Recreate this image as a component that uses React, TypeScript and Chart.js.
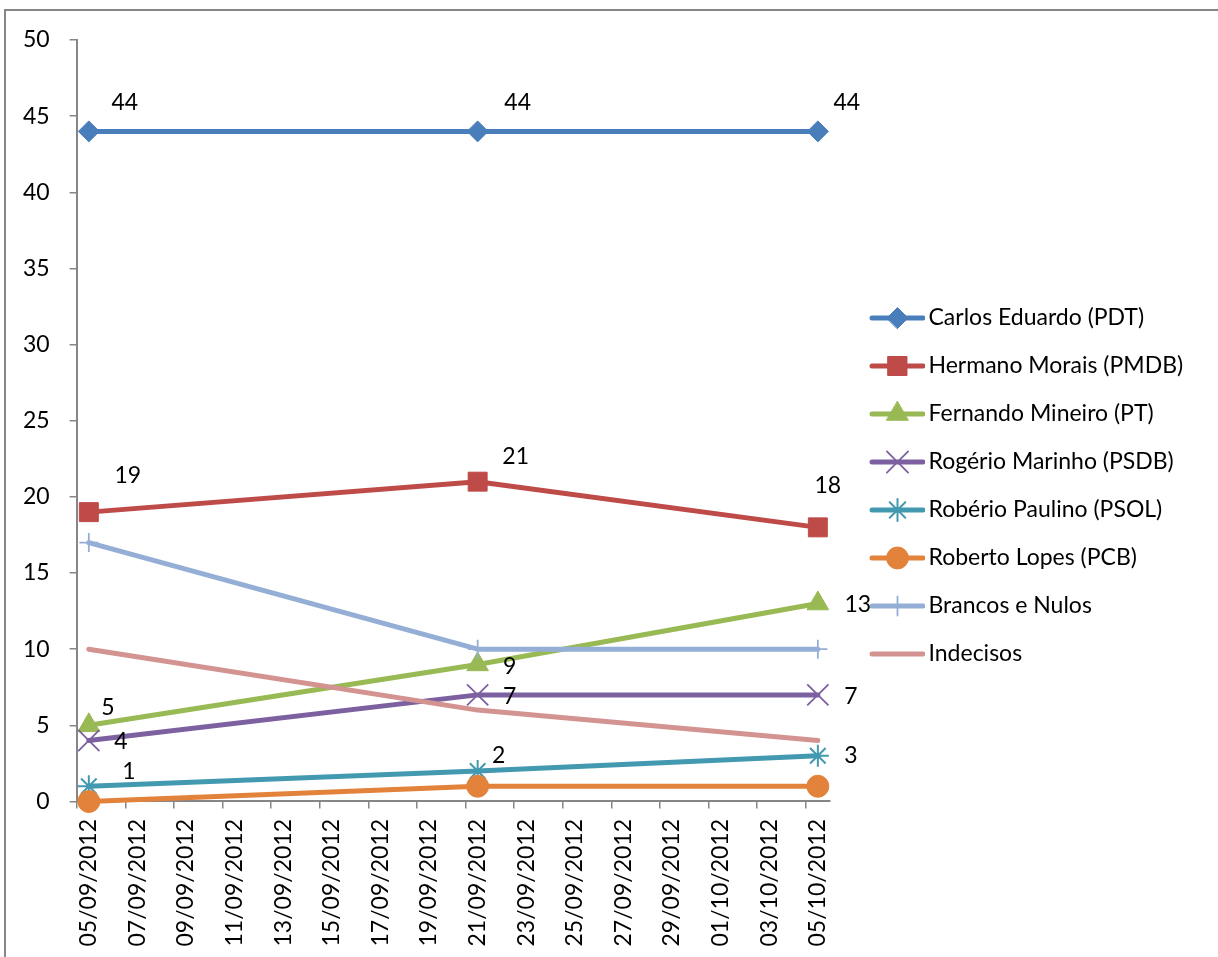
import React, { useEffect, useRef } from 'react';
import { Chart, registerables } from 'chart.js';
import { drawPoint } from 'chart.js/helpers';

Chart.register(...registerables);

// ---------------- data ----------------
const SURVEY_DATES = ['05/09/2012', '21/09/2012', '05/10/2012'];
const AXIS_START_DATE = '05/09/2012';
const AXIS_END_DATE = '05/10/2012';
const TICK_STEP_DAYS = 2;

const SERIES_LABELS = [
  'Carlos Eduardo (PDT)',
  'Hermano Morais (PMDB)',
  'Fernando Mineiro (PT)',
  'Rogério Marinho (PSDB)',
  'Robério Paulino (PSOL)',
  'Roberto Lopes (PCB)',
  'Brancos e Nulos',
  'Indecisos',
];
const CARLOS_EDUARDO = [44, 44, 44];
const HERMANO_MORAIS = [19, 21, 18];
const FERNANDO_MINEIRO = [5, 9, 13];
const ROGERIO_MARINHO = [4, 7, 7];
const ROBERIO_PAULINO = [1, 2, 3];
const ROBERTO_LOPES = [0, 1, 1];
const BRANCOS_NULOS = [17, 10, 10];
const INDECISOS = [10, 6, 4];
const SERIES_VALUES = [
  CARLOS_EDUARDO,
  HERMANO_MORAIS,
  FERNANDO_MINEIRO,
  ROGERIO_MARINHO,
  ROBERIO_PAULINO,
  ROBERTO_LOPES,
  BRANCOS_NULOS,
  INDECISOS,
];
const SHOW_VALUE_LABELS = [true, true, true, true, true, false, false, false];

const Y_MIN = 0;
const Y_MAX = 50;
const Y_STEP = 5;

// ---------------- styles ----------------
const FONT_FAMILY = 'Lato, "Open Sans", sans-serif';
const FONT_SIZE = 23;
const AXIS_COLOR = '#868686';
const COLORS = ['#4A7EBB', '#BE4B48', '#98B954', '#7D60A0', '#4299B0', '#E3823B', '#94AED6', '#D39391'];
const MARKERS = [
  { style: 'rectRot', radius: 10.5, border: 1 },
  { style: 'rect', radius: 13.4, border: 1 },
  { style: 'triangle', radius: 12.5, border: 1 },
  { style: 'crossRot', radius: 15, border: 1.8 },
  { style: 'star', radius: 11, border: 2 },
  { style: 'circle', radius: 11, border: 1 },
  { style: 'cross', radius: 9.5, border: 1.8 },
  { style: 'circle', radius: 0, border: 0 },
];
// label offsets (px) relative to each point
const LABEL_OFFSETS = [
  [[36, -29], [40, -29], [29, -29]],
  [[39, -37], [38, -25], [10, -42]],
  [[19, -18], [32, 2], [40, 1]],
  [[32, 1], [32, 2], [33, 2]],
  [[40, -15], [21, -15], [33, 0]],
  [[0, 0], [0, 0], [0, 0]],
  [[0, 0], [0, 0], [0, 0]],
  [[0, 0], [0, 0], [0, 0]],
];

const CANVAS_W = 1218;
const CANVAS_H = 957;
const PAD_TOP = 40;
const PAD_BOTTOM = 0;
const PAD_LEFT = 3;
const LEGEND_PADDING = 25;
const LEGEND_BOX_W = 62;
const LEGEND_IMG_W = 78;
const LEGEND_FIRST_CENTER_Y = 318;
const TARGET_PLOT_RIGHT = 830;

// ---------------- helpers ----------------
const DAY_MS = 86400000;
function parseDate(s: string): number {
  const [d, m, y] = s.split('/').map(Number);
  return Date.UTC(y, m - 1, d);
}
const START_MS = parseDate(AXIS_START_DATE);
const dayIndex = (s: string) => Math.round((parseDate(s) - START_MS) / DAY_MS);
const LAST_DAY = dayIndex(AXIS_END_DATE);
function formatDay(day: number): string {
  const dt = new Date(START_MS + day * DAY_MS);
  const dd = String(dt.getUTCDate()).padStart(2, '0');
  const mm = String(dt.getUTCMonth() + 1).padStart(2, '0');
  return `${dd}/${mm}/${dt.getUTCFullYear()}`;
}
const LABEL_DAYS: number[] = [];
for (let d = 0; d <= LAST_DAY; d += TICK_STEP_DAYS) LABEL_DAYS.push(d);
const TICK_MARK_DAYS: number[] = [];
for (let d = -0.5; d < LAST_DAY; d += TICK_STEP_DAYS) TICK_MARK_DAYS.push(d);

function makeLegendImage(i: number): HTMLCanvasElement {
  const c = document.createElement('canvas');
  c.width = LEGEND_IMG_W;
  c.height = 30;
  const ctx = c.getContext('2d')!;
  ctx.strokeStyle = COLORS[i];
  ctx.lineWidth = 5;
  ctx.lineCap = 'round';
  ctx.beginPath();
  ctx.moveTo(25, 15);
  ctx.lineTo(LEGEND_IMG_W - 2, 15);
  ctx.stroke();
  const m = MARKERS[i];
  if (m.radius > 0) {
    ctx.fillStyle = COLORS[i];
    ctx.strokeStyle = COLORS[i];
    ctx.lineWidth = m.border;
    drawPoint(ctx, { pointStyle: m.style as any, radius: m.radius, rotation: 0, borderWidth: m.border } as any, 50.5, 15);
  }
  return c;
}

const valueLabelPlugin = {
  id: 'valueLabels',
  afterDatasetsDraw(chart: any) {
    const ctx = chart.ctx;
    ctx.save();
    ctx.font = `${FONT_SIZE}px ${FONT_FAMILY}`;
    ctx.fillStyle = '#000';
    ctx.textAlign = 'center';
    ctx.textBaseline = 'middle';
    SERIES_VALUES.forEach((vals, i) => {
      if (!SHOW_VALUE_LABELS[i]) return;
      const meta = chart.getDatasetMeta(i);
      meta.data.forEach((pt: any, j: number) => {
        const [dx, dy] = LABEL_OFFSETS[i][j];
        ctx.fillText(String(vals[j]), pt.x + dx, pt.y + dy);
      });
    });
    ctx.restore();
  },
};

export default function App() {
  const ref = useRef<HTMLCanvasElement>(null);
  useEffect(() => {
    if (!ref.current) return;
    const font = { family: FONT_FAMILY, size: FONT_SIZE };
    const mctx = document.createElement('canvas').getContext('2d')!;
    mctx.font = `${FONT_SIZE}px ${FONT_FAMILY}`;
    const maxTextW = Math.max(...SERIES_LABELS.map((t) => mctx.measureText(t).width));
    const legendW = LEGEND_PADDING + LEGEND_BOX_W + FONT_SIZE / 2 + maxTextW + 10;
    const padRight = Math.max(0, CANVAS_W - TARGET_PLOT_RIGHT - legendW);
    const titleHeight = LEGEND_FIRST_CENTER_Y - PAD_TOP - LEGEND_PADDING - FONT_SIZE / 2;
    const titleLineH = FONT_SIZE * 1.2;
    const legendImages = SERIES_LABELS.map((_, i) => makeLegendImage(i));
    const xs = SURVEY_DATES.map(dayIndex);

    const datasets = SERIES_VALUES.map((vals, i) => ({
      label: SERIES_LABELS[i],
      data: vals.map((v, j) => ({ x: xs[j], y: v })),
      borderColor: COLORS[i],
      backgroundColor: COLORS[i],
      borderWidth: 5,
      borderJoinStyle: 'round' as const,
      borderCapStyle: 'round' as const,
      pointStyle: MARKERS[i].style as any,
      pointRadius: MARKERS[i].radius,
      pointBorderWidth: MARKERS[i].border,
      pointBackgroundColor: COLORS[i],
      pointBorderColor: COLORS[i],
      tension: 0,
      clip: false,
      order: SERIES_VALUES.length - 1 - i,
    }));

    const chart = new Chart(ref.current, {
      type: 'line',
      data: { datasets },
      plugins: [valueLabelPlugin],
      options: {
        animation: false,
        responsive: false,
        devicePixelRatio: 1,
        layout: { padding: { left: PAD_LEFT, top: PAD_TOP, right: padRight, bottom: PAD_BOTTOM } },
        plugins: {
          tooltip: { enabled: false },
          legend: {
            display: true,
            position: 'right',
            align: 'start',
            maxWidth: 700,
            title: {
              display: true,
              text: '',
              font: { family: FONT_FAMILY, size: FONT_SIZE, lineHeight: 1.2 },
              padding: { top: Math.max(0, titleHeight - titleLineH), bottom: 0 },
            },
            labels: {
              usePointStyle: true,
              pointStyleWidth: LEGEND_BOX_W,
              boxHeight: FONT_SIZE,
              padding: LEGEND_PADDING,
              color: '#000',
              font,
              generateLabels: () =>
                SERIES_LABELS.map((t, i) => ({
                  text: t,
                  pointStyle: legendImages[i] as any,
                  fillStyle: 'rgba(0,0,0,0)',
                  strokeStyle: 'rgba(0,0,0,0)',
                  fontColor: '#000',
                  lineWidth: 0,
                  hidden: false,
                  datasetIndex: i,
                })),
            },
          },
        },
        scales: {
          y: {
            min: Y_MIN,
            max: Y_MAX,
            ticks: { stepSize: Y_STEP, color: '#000', font, padding: 20 },
            grid: { display: true, drawOnChartArea: false, drawTicks: true, tickLength: 7, color: AXIS_COLOR, lineWidth: 1.5 },
            border: { display: true, color: AXIS_COLOR, width: 2 },
          },
          x: {
            type: 'linear',
            position: 'bottom',
            weight: 1,
            min: -0.5,
            max: LAST_DAY + 0.5,
            afterBuildTicks: (s: any) => {
              s.ticks = LABEL_DAYS.map((v) => ({ value: v }));
            },
            ticks: {
              callback: (v: any) => formatDay(Number(v)),
              minRotation: 90,
              maxRotation: 90,
              autoSkip: false,
              color: '#000',
              font,
              padding: 10.5,
            },
            grid: { display: false, drawTicks: false, tickLength: 0 },
            border: { display: false },
          },
          xTicks: {
            type: 'linear',
            position: 'bottom',
            weight: 0,
            min: -0.5,
            max: LAST_DAY + 0.5,
            afterBuildTicks: (s: any) => {
              s.ticks = TICK_MARK_DAYS.map((v) => ({ value: v }));
            },
            ticks: { display: false },
            grid: { display: true, drawOnChartArea: false, drawTicks: true, tickLength: 7, color: AXIS_COLOR, lineWidth: 1.5 },
            border: { display: true, color: AXIS_COLOR, width: 2 },
          },
        },
      } as any,
    });
    return () => chart.destroy();
  }, []);

  return (
    <div style={{ position: 'fixed', left: 0, top: 0, width: CANVAS_W, height: CANVAS_H, overflow: 'hidden', background: '#fff' }}>
      <div style={{ position: 'absolute', left: 4, top: 9, width: 1400, height: 1200, border: `2px solid ${AXIS_COLOR}` }} />
      <canvas ref={ref} width={CANVAS_W} height={CANVAS_H} style={{ position: 'absolute', left: 0, top: 0 }} />
    </div>
  );
}
